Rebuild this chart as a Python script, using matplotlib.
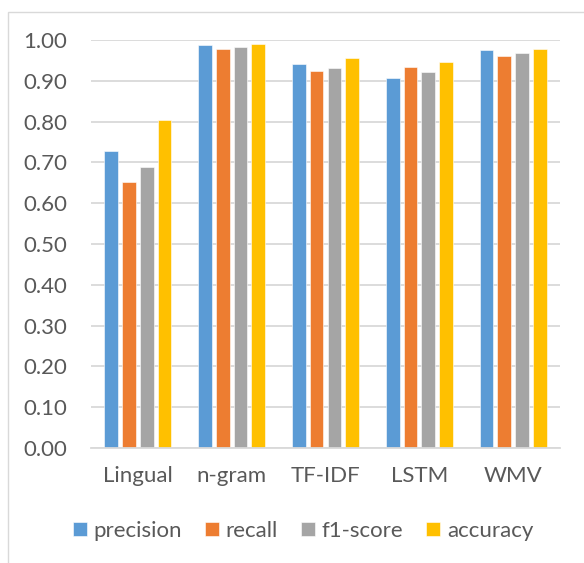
import matplotlib
matplotlib.use("Agg")
import matplotlib.pyplot as plt
import numpy as np
from matplotlib.patches import Rectangle

categories = ["Lingual", "n-gram", "TF-IDF", "LSTM", "WMV"]
series_names = ["precision", "recall", "f1-score", "accuracy"]
precision = [0.729, 0.988, 0.942, 0.908, 0.975]
recall = [0.651, 0.979, 0.923, 0.933, 0.962]
f1_score = [0.689, 0.984, 0.932, 0.921, 0.968]
accuracy = [0.804, 0.989, 0.955, 0.945, 0.978]
yticks = [0.0, 0.1, 0.2, 0.3, 0.4, 0.5, 0.6, 0.7, 0.8, 0.9, 1.0]

colors = ["#5B9BD5", "#ED7D31", "#A5A5A5", "#FFC000"]
plt.rcParams['font.family'] = ['Lato', 'DejaVu Sans']

fig = plt.figure(figsize=(5.84, 5.63), dpi=100)
W, H = 584, 563
ax = fig.add_axes([91 / W, 1 - 448 / H, (560 - 91) / W, (448 - 40) / H])

x = np.arange(len(categories))
step = 0.189
bw = 0.146
data = [precision, recall, f1_score, accuracy]
for i, (vals, c, name) in enumerate(zip(data, colors, series_names)):
    ax.bar(x + (i - 1.5) * step, vals, width=bw, color=c, label=name,
           edgecolor="white", linewidth=0.4, zorder=3)

ax.set_xlim(-0.5, len(categories) - 0.5)
ax.set_ylim(0, 1.0)
ax.set_yticks(yticks)
ax.set_yticklabels([f"{v:.2f}" for v in yticks])
ax.yaxis.grid(True, color="#D9D9D9", linewidth=1.3, zorder=0)
for s in ["top", "right", "left"]:
    ax.spines[s].set_visible(False)
ax.spines["bottom"].set_color("#D9D9D9")
ax.spines["bottom"].set_linewidth(1.3)
ax.spines["bottom"].set_zorder(4)
ax.tick_params(axis="both", length=0, labelsize=16, colors="#595959")
ax.tick_params(axis="y", pad=17)
ax.tick_params(axis="x", pad=13)
ax.set_xticks(x)
ax.set_xticklabels(categories)

leg = fig.legend(loc="center", bbox_to_anchor=(303 / W, 1 - 531 / H), ncol=4,
                 frameon=False, fontsize=16, handlelength=0.62, handleheight=0.62,
                 handletextpad=0.3, columnspacing=1.05, labelcolor="#595959")

# chart border
fig.patches.append(Rectangle((8 / W, -0.1), 1.2, 1 - 12 / H + 0.1, transform=fig.transFigure,
                             fill=False, edgecolor="#D9D9D9", linewidth=1))

fig.savefig("out.png", dpi=100)
